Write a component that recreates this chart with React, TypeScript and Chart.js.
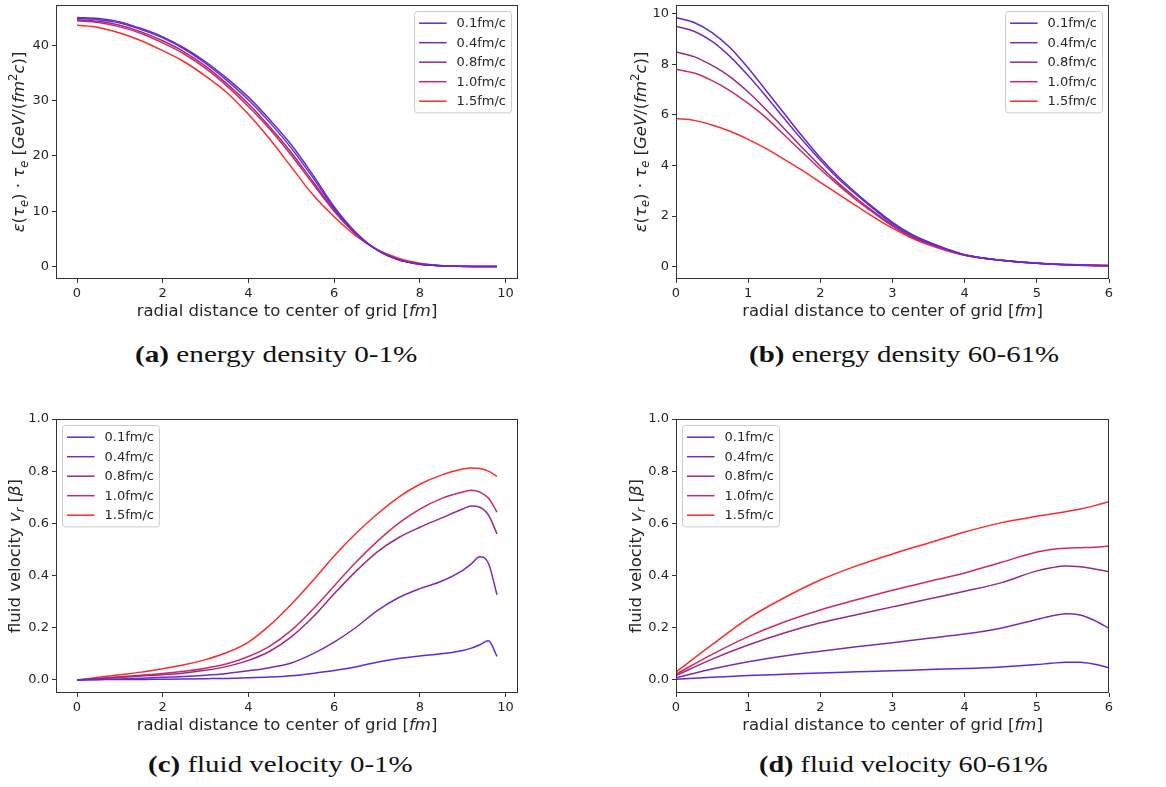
import React, { useEffect, useLayoutEffect, useRef } from 'react';
import { Chart, registerables } from 'chart.js';

Chart.register(...registerables);

// ---------- data ----------
const SERIES_LABELS = ['0.1fm/c', '0.4fm/c', '0.8fm/c', '1.0fm/c', '1.5fm/c'];
const SERIES_COLORS = ['#5a2be0', '#7a2bb6', '#9a2a88', '#cf2a5c', '#ff2a2a'];

// (a) energy density 0-1%
const A_X = [0, 0.5, 1, 1.5, 2, 2.5, 3, 3.5, 4, 4.5, 5, 5.5, 6, 6.5, 7, 7.5, 8, 8.5, 9, 9.5, 9.8];
const A_T01 = [45.0, 44.8, 44.2, 43.0, 41.5, 39.5, 37.0, 34.0, 30.6, 26.5, 22.0, 16.6, 10.8, 6.2, 3.0, 1.2, 0.4, 0.12, 0.03, 0.01, 0];
const A_T04 = [44.8, 44.6, 44.0, 42.8, 41.3, 39.3, 36.7, 33.6, 30.1, 26.0, 21.4, 16.1, 10.5, 6.1, 3.0, 1.2, 0.4, 0.12, 0.03, 0.01, 0];
const A_T08 = [44.6, 44.3, 43.6, 42.4, 40.8, 38.8, 36.2, 33.0, 29.4, 25.2, 20.6, 15.4, 10.2, 6.0, 3.0, 1.25, 0.45, 0.14, 0.04, 0.01, 0];
const A_T10 = [44.4, 44.1, 43.3, 42.1, 40.4, 38.4, 35.8, 32.6, 28.9, 24.8, 20.1, 15.0, 10.0, 5.9, 3.0, 1.3, 0.5, 0.15, 0.04, 0.01, 0];
const A_T15 = [43.6, 43.2, 42.2, 40.8, 39.0, 37.0, 34.4, 31.4, 27.5, 23.0, 18.0, 13.0, 9.0, 5.6, 3.1, 1.5, 0.6, 0.2, 0.06, 0.02, 0.01];
const A_XTICKS = [0, 2, 4, 6, 8, 10];
const A_YTICKS = [0, 10, 20, 30, 40];

// (b) energy density 60-61%
const B_X = [0, 0.25, 0.5, 0.75, 1, 1.25, 1.5, 1.75, 2, 2.25, 2.5, 2.75, 3, 3.25, 3.5, 3.75, 4, 4.5, 5, 5.5, 6];
const B_T01 = [9.85, 9.65, 9.25, 8.65, 7.85, 6.95, 6.05, 5.15, 4.3, 3.55, 2.9, 2.3, 1.75, 1.3, 0.97, 0.7, 0.47, 0.25, 0.13, 0.06, 0.03];
const B_T04 = [9.5, 9.3, 8.9, 8.3, 7.55, 6.72, 5.85, 5.0, 4.2, 3.47, 2.84, 2.25, 1.7, 1.27, 0.95, 0.69, 0.47, 0.25, 0.13, 0.06, 0.03];
const B_T08 = [8.48, 8.3, 7.95, 7.5, 6.9, 6.2, 5.45, 4.7, 3.97, 3.3, 2.7, 2.14, 1.63, 1.22, 0.92, 0.67, 0.46, 0.25, 0.13, 0.07, 0.03];
const B_T10 = [7.8, 7.65, 7.35, 6.95, 6.45, 5.88, 5.2, 4.52, 3.85, 3.22, 2.63, 2.1, 1.6, 1.2, 0.9, 0.66, 0.45, 0.25, 0.13, 0.07, 0.04];
const B_T15 = [5.85, 5.78, 5.6, 5.35, 5.03, 4.66, 4.24, 3.8, 3.33, 2.86, 2.4, 1.94, 1.52, 1.15, 0.86, 0.63, 0.45, 0.26, 0.14, 0.08, 0.05];
const B_XTICKS = [0, 1, 2, 3, 4, 5, 6];
const B_YTICKS = [0, 2, 4, 6, 8, 10];

// (c) fluid velocity 0-1%
const C_X = [0, 0.5, 1, 1.5, 2, 2.5, 3, 3.5, 4, 4.5, 5, 5.5, 6, 6.5, 7, 7.5, 8, 8.5, 9, 9.2, 9.4, 9.6, 9.8];
const C_T01 = [0, 0.001, 0.002, 0.002, 0.003, 0.004, 0.005, 0.006, 0.008, 0.011, 0.016, 0.025, 0.036, 0.05, 0.068, 0.082, 0.092, 0.1, 0.113, 0.122, 0.135, 0.15, 0.09];
const C_T04 = [0, 0.002, 0.004, 0.007, 0.01, 0.013, 0.018, 0.025, 0.035, 0.047, 0.065, 0.1, 0.145, 0.2, 0.265, 0.315, 0.35, 0.378, 0.42, 0.445, 0.472, 0.447, 0.326];
const C_T08 = [0, 0.005, 0.01, 0.015, 0.02, 0.027, 0.037, 0.052, 0.075, 0.11, 0.165, 0.24, 0.33, 0.415, 0.49, 0.545, 0.585, 0.62, 0.655, 0.667, 0.662, 0.632, 0.56];
const C_T10 = [0, 0.006, 0.012, 0.018, 0.025, 0.033, 0.045, 0.062, 0.09, 0.13, 0.19, 0.27, 0.36, 0.45, 0.53, 0.6, 0.655, 0.695, 0.72, 0.727, 0.72, 0.697, 0.643];
const C_T15 = [0, 0.01, 0.02, 0.03, 0.043, 0.058, 0.078, 0.105, 0.145, 0.21, 0.29, 0.38, 0.475, 0.56, 0.635, 0.7, 0.75, 0.785, 0.808, 0.812, 0.81, 0.8, 0.78];
const C_XTICKS = [0, 2, 4, 6, 8, 10];
const C_YTICKS = [0, 0.2, 0.4, 0.6, 0.8, 1.0];

// (d) fluid velocity 60-61%
const D_X = [0, 0.5, 1, 1.5, 2, 2.5, 3, 3.5, 4, 4.5, 5, 5.2, 5.4, 5.6, 5.8, 6];
const D_T01 = [0.003, 0.01, 0.017, 0.022, 0.027, 0.031, 0.035, 0.04, 0.044, 0.05, 0.059, 0.064, 0.068, 0.068, 0.06, 0.047];
const D_T04 = [0.008, 0.042, 0.07, 0.092, 0.11, 0.127, 0.143, 0.16, 0.176, 0.198, 0.232, 0.245, 0.254, 0.249, 0.228, 0.198];
const D_T08 = [0.017, 0.08, 0.134, 0.18, 0.219, 0.25, 0.28, 0.31, 0.34, 0.372, 0.418, 0.43, 0.437, 0.434, 0.425, 0.415];
const D_T10 = [0.022, 0.098, 0.166, 0.222, 0.268, 0.307, 0.344, 0.377, 0.41, 0.45, 0.49, 0.5, 0.505, 0.507, 0.509, 0.513];
const D_T15 = [0.03, 0.135, 0.236, 0.315, 0.383, 0.437, 0.483, 0.525, 0.567, 0.602, 0.627, 0.636, 0.645, 0.655, 0.668, 0.683];
const D_XTICKS = [0, 1, 2, 3, 4, 5, 6];
const D_YTICKS = [0, 0.2, 0.4, 0.6, 0.8, 1.0];

// ---------- labels ----------
type Seg = { t: string; it?: boolean; sub?: boolean; sup?: boolean };
const X_LABEL: Seg[] = [{ t: 'radial distance to center of grid [' }, { t: 'fm', it: true }, { t: ']' }];
const Y_LABEL_E: Seg[] = [
  { t: 'ε', it: true }, { t: '(' }, { t: 'τ', it: true }, { t: 'e', it: true, sub: true }, { t: ')' },
  { t: ' · ' }, { t: 'τ', it: true }, { t: 'e', it: true, sub: true }, { t: ' [' },
  { t: 'GeV', it: true }, { t: '/(' }, { t: 'fm', it: true }, { t: '2', sup: true }, { t: 'c', it: true }, { t: ')]' },
];
const Y_LABEL_V: Seg[] = [
  { t: 'fluid velocity ' }, { t: 'v', it: true }, { t: 'r', it: true, sub: true }, { t: ' [' }, { t: 'β', it: true }, { t: ']' },
];

const FONT = '"DejaVu Sans"';
const TEXT = '#262626';

type Area = { l: number; t: number; r: number; b: number };
type PanelCfg = {
  area: Area;
  xMin: number; xMax: number; yMin: number; yMax: number;
  xTicks: number[]; yTicks: number[];
  yFmt: (v: number) => string;
  xs: number[]; series: number[][];
  legendPos: 'left' | 'right';
  yLabel: Seg[]; yLabelOffset: number;
};

const intFmt = (v: number) => String(Math.round(v));
const decFmt = (v: number) => v.toFixed(1);

const PANELS: PanelCfg[] = [
  { area: { l: 56, t: 5, r: 518, b: 279 }, xMin: -0.49, xMax: 10.29, yMin: -2.25, yMax: 47.25,
    xTicks: A_XTICKS, yTicks: A_YTICKS, yFmt: intFmt, xs: A_X, series: [A_T01, A_T04, A_T08, A_T10, A_T15],
    legendPos: 'right', yLabel: Y_LABEL_E, yLabelOffset: 32 },
  { area: { l: 676, t: 5, r: 1109, b: 279 }, xMin: 0, xMax: 6, yMin: -0.49, yMax: 10.34,
    xTicks: B_XTICKS, yTicks: B_YTICKS, yFmt: intFmt, xs: B_X, series: [B_T01, B_T04, B_T08, B_T10, B_T15],
    legendPos: 'right', yLabel: Y_LABEL_E, yLabelOffset: 30.5 },
  { area: { l: 56, t: 419, r: 518, b: 693 }, xMin: -0.49, xMax: 10.29, yMin: -0.05, yMax: 1.0,
    xTicks: C_XTICKS, yTicks: C_YTICKS, yFmt: decFmt, xs: C_X, series: [C_T01, C_T04, C_T08, C_T10, C_T15],
    legendPos: 'left', yLabel: Y_LABEL_V, yLabelOffset: 36 },
  { area: { l: 676, t: 419, r: 1109, b: 693 }, xMin: 0, xMax: 6, yMin: -0.05, yMax: 1.0,
    xTicks: D_XTICKS, yTicks: D_YTICKS, yFmt: decFmt, xs: D_X, series: [D_T01, D_T04, D_T08, D_T10, D_T15],
    legendPos: 'left', yLabel: Y_LABEL_V, yLabelOffset: 35 },
];

const CAPTIONS = [
  { bold: '(a)', text: 'energy density 0-1%', left: 135, width: 282, baseline: 362.5 },
  { bold: '(b)', text: 'energy density 60-61%', left: 749, width: 310, baseline: 362.5 },
  { bold: '(c)', text: 'fluid velocity 0-1%', left: 148, width: 265, baseline: 772.5 },
  { bold: '(d)', text: 'fluid velocity 60-61%', left: 759, width: 289, baseline: 772.5 },
];

// canvas margins around the plot area
const M_L = 60, M_T = 15, M_R = 30, M_B = 55;
const LABEL_SIZE = 16.5;
const TICK_SIZE = 13;
const LEGEND_SIZE = 13;

function drawRich(ctx: CanvasRenderingContext2D, segs: Seg[], size: number, cx: number, cy: number, rotate: boolean) {
  ctx.save();
  ctx.translate(cx, cy);
  if (rotate) ctx.rotate(-Math.PI / 2);
  const parts = segs.map((s) => {
    const fs = s.sub || s.sup ? size * 0.7 : size;
    const font = `${s.it ? 'italic ' : ''}${fs}px ${FONT}`;
    ctx.font = font;
    return { s, font, w: ctx.measureText(s.t).width, dy: s.sub ? size * 0.22 : s.sup ? -size * 0.4 : 0 };
  });
  const total = parts.reduce((a, p) => a + p.w, 0);
  let x = -total / 2;
  ctx.fillStyle = TEXT;
  ctx.textAlign = 'left';
  ctx.textBaseline = 'alphabetic';
  for (const p of parts) {
    ctx.font = p.font;
    ctx.fillText(p.s.t, x, p.dy);
    x += p.w;
  }
  ctx.restore();
}

function Panel({ cfg }: { cfg: PanelCfg }) {
  const ref = useRef<HTMLCanvasElement>(null);
  const { area } = cfg;
  const width = area.r - area.l + M_L + M_R;
  const height = area.b - area.t + M_T + M_B;

  useEffect(() => {
    if (!ref.current) return;
    const decor = {
      id: 'panelDecor',
      afterDraw(chart: any) {
        const ctx: CanvasRenderingContext2D = chart.ctx;
        const ca = chart.chartArea;
        // frame
        ctx.save();
        ctx.strokeStyle = '#333333';
        ctx.lineWidth = 1;
        ctx.strokeRect(Math.round(ca.left) + 0.5, Math.round(ca.top) + 0.5, Math.round(ca.right - ca.left) - 1, Math.round(ca.bottom - ca.top) - 1);
        ctx.restore();
        // axis titles
        drawRich(ctx, X_LABEL, LABEL_SIZE, (ca.left + ca.right) / 2, ca.bottom + 36.5, false);
        drawRich(ctx, cfg.yLabel, LABEL_SIZE, ca.left - cfg.yLabelOffset, (ca.top + ca.bottom) / 2, true);
        // legend
        const fs = LEGEND_SIZE;
        ctx.save();
        ctx.font = `${fs}px ${FONT}`;
        const tw = Math.max(...SERIES_LABELS.map((l) => ctx.measureText(l).width));
        const pad = 4.5, handle = 27.5, gap = 10, rowH = 19.5;
        const boxW = pad + handle + gap + tw + 5.5;
        const boxH = 5 * fs + 4 * 6.5 + 2 * 5.2;
        const left = cfg.legendPos === 'right' ? ca.right - 6.5 - boxW : ca.left + 6.5;
        const top = ca.top + 6.5;
        ctx.beginPath();
        (ctx as any).roundRect(left, top, boxW, boxH, 3);
        ctx.fillStyle = 'rgba(255,255,255,0.8)';
        ctx.fill();
        ctx.strokeStyle = '#cccccc';
        ctx.lineWidth = 1;
        ctx.stroke();
        SERIES_LABELS.forEach((lab, i) => {
          const cy = top + 5.2 + fs / 2 + i * rowH;
          ctx.beginPath();
          ctx.moveTo(left + pad, cy);
          ctx.lineTo(left + pad + handle, cy);
          ctx.strokeStyle = SERIES_COLORS[i];
          ctx.lineWidth = 1.5;
          ctx.stroke();
          ctx.fillStyle = TEXT;
          ctx.textBaseline = 'middle';
          ctx.textAlign = 'left';
          ctx.fillText(lab, left + pad + handle + gap, cy + 0.5);
        });
        ctx.restore();
      },
    };

    const fixTicks = (vals: number[]) => (scale: any) => {
      scale.ticks = vals.map((v) => ({ value: v }));
    };
    const tickFont = { family: 'DejaVu Sans', size: TICK_SIZE };

    const chart = new Chart(ref.current, {
      type: 'line',
      data: {
        datasets: cfg.series.map((ys, i) => ({
          label: SERIES_LABELS[i],
          data: cfg.xs.map((x, j) => ({ x, y: ys[j] })),
          borderColor: SERIES_COLORS[i],
          backgroundColor: SERIES_COLORS[i],
          borderWidth: 1.5,
          pointRadius: 0,
          fill: false,
          cubicInterpolationMode: 'monotone' as const,
        })),
      },
      options: {
        animation: false,
        responsive: false,
        devicePixelRatio: 1,
        events: [],
        layout: { padding: { left: 0, top: M_T, right: M_R, bottom: 0 } },
        plugins: { legend: { display: false }, tooltip: { enabled: false }, title: { display: false } },
        scales: {
          x: {
            type: 'linear',
            min: cfg.xMin,
            max: cfg.xMax,
            afterBuildTicks: fixTicks(cfg.xTicks),
            afterFit: (s: any) => { s.height = M_B; s.paddingLeft = 0; s.paddingRight = 0; s.paddingTop = 0; s.paddingBottom = 0; },
            grid: { drawOnChartArea: false, drawTicks: true, tickLength: 4, color: '#333333', lineWidth: 1 },
            border: { display: false },
            ticks: { font: tickFont, color: TEXT, padding: 3, maxRotation: 0, autoSkip: false, callback: (v: any) => intFmt(Number(v)) },
          },
          y: {
            type: 'linear',
            min: cfg.yMin,
            max: cfg.yMax,
            afterBuildTicks: fixTicks(cfg.yTicks),
            afterFit: (s: any) => { s.width = M_L; s.paddingLeft = 0; s.paddingRight = 0; s.paddingTop = 0; s.paddingBottom = 0; },
            grid: { drawOnChartArea: false, drawTicks: true, tickLength: 4, color: '#333333', lineWidth: 1 },
            border: { display: false },
            ticks: { font: tickFont, color: TEXT, padding: 3, autoSkip: false, callback: (v: any) => cfg.yFmt(Number(v)) },
          },
        },
      } as any,
      plugins: [decor],
    });
    return () => chart.destroy();
  }, []);

  return (
    <canvas
      ref={ref}
      width={width}
      height={height}
      style={{ position: 'absolute', left: area.l - M_L, top: area.t - M_T, width, height }}
    />
  );
}

function Caption({ bold, text, left, width, baseline }: { bold: string; text: string; left: number; width: number; baseline: number }) {
  const ref = useRef<HTMLSpanElement>(null);
  const fs = 23.5;
  useLayoutEffect(() => {
    const el = ref.current;
    if (!el) return;
    el.style.transform = 'none';
    const w = el.offsetWidth;
    if (w > 0) el.style.transform = `scaleX(${width / w})`;
  }, [width]);
  return (
    <span
      ref={ref}
      style={{
        position: 'absolute',
        left,
        top: baseline - 0.8375 * fs,
        display: 'inline-block',
        whiteSpace: 'nowrap',
        fontFamily: '"Liberation Serif", serif',
        fontSize: fs,
        lineHeight: 1,
        color: '#111',
        transformOrigin: '0 0',
      }}
    >
      <b>{bold}</b> {text}
    </span>
  );
}

export default function App() {
  return (
    <div style={{ position: 'absolute', left: 0, top: 0, width: 1166, height: 787, background: '#fff', overflow: 'hidden' }}>
      {PANELS.map((p, i) => (
        <Panel key={i} cfg={p} />
      ))}
      {CAPTIONS.map((c, i) => (
        <Caption key={i} {...c} />
      ))}
    </div>
  );
}
